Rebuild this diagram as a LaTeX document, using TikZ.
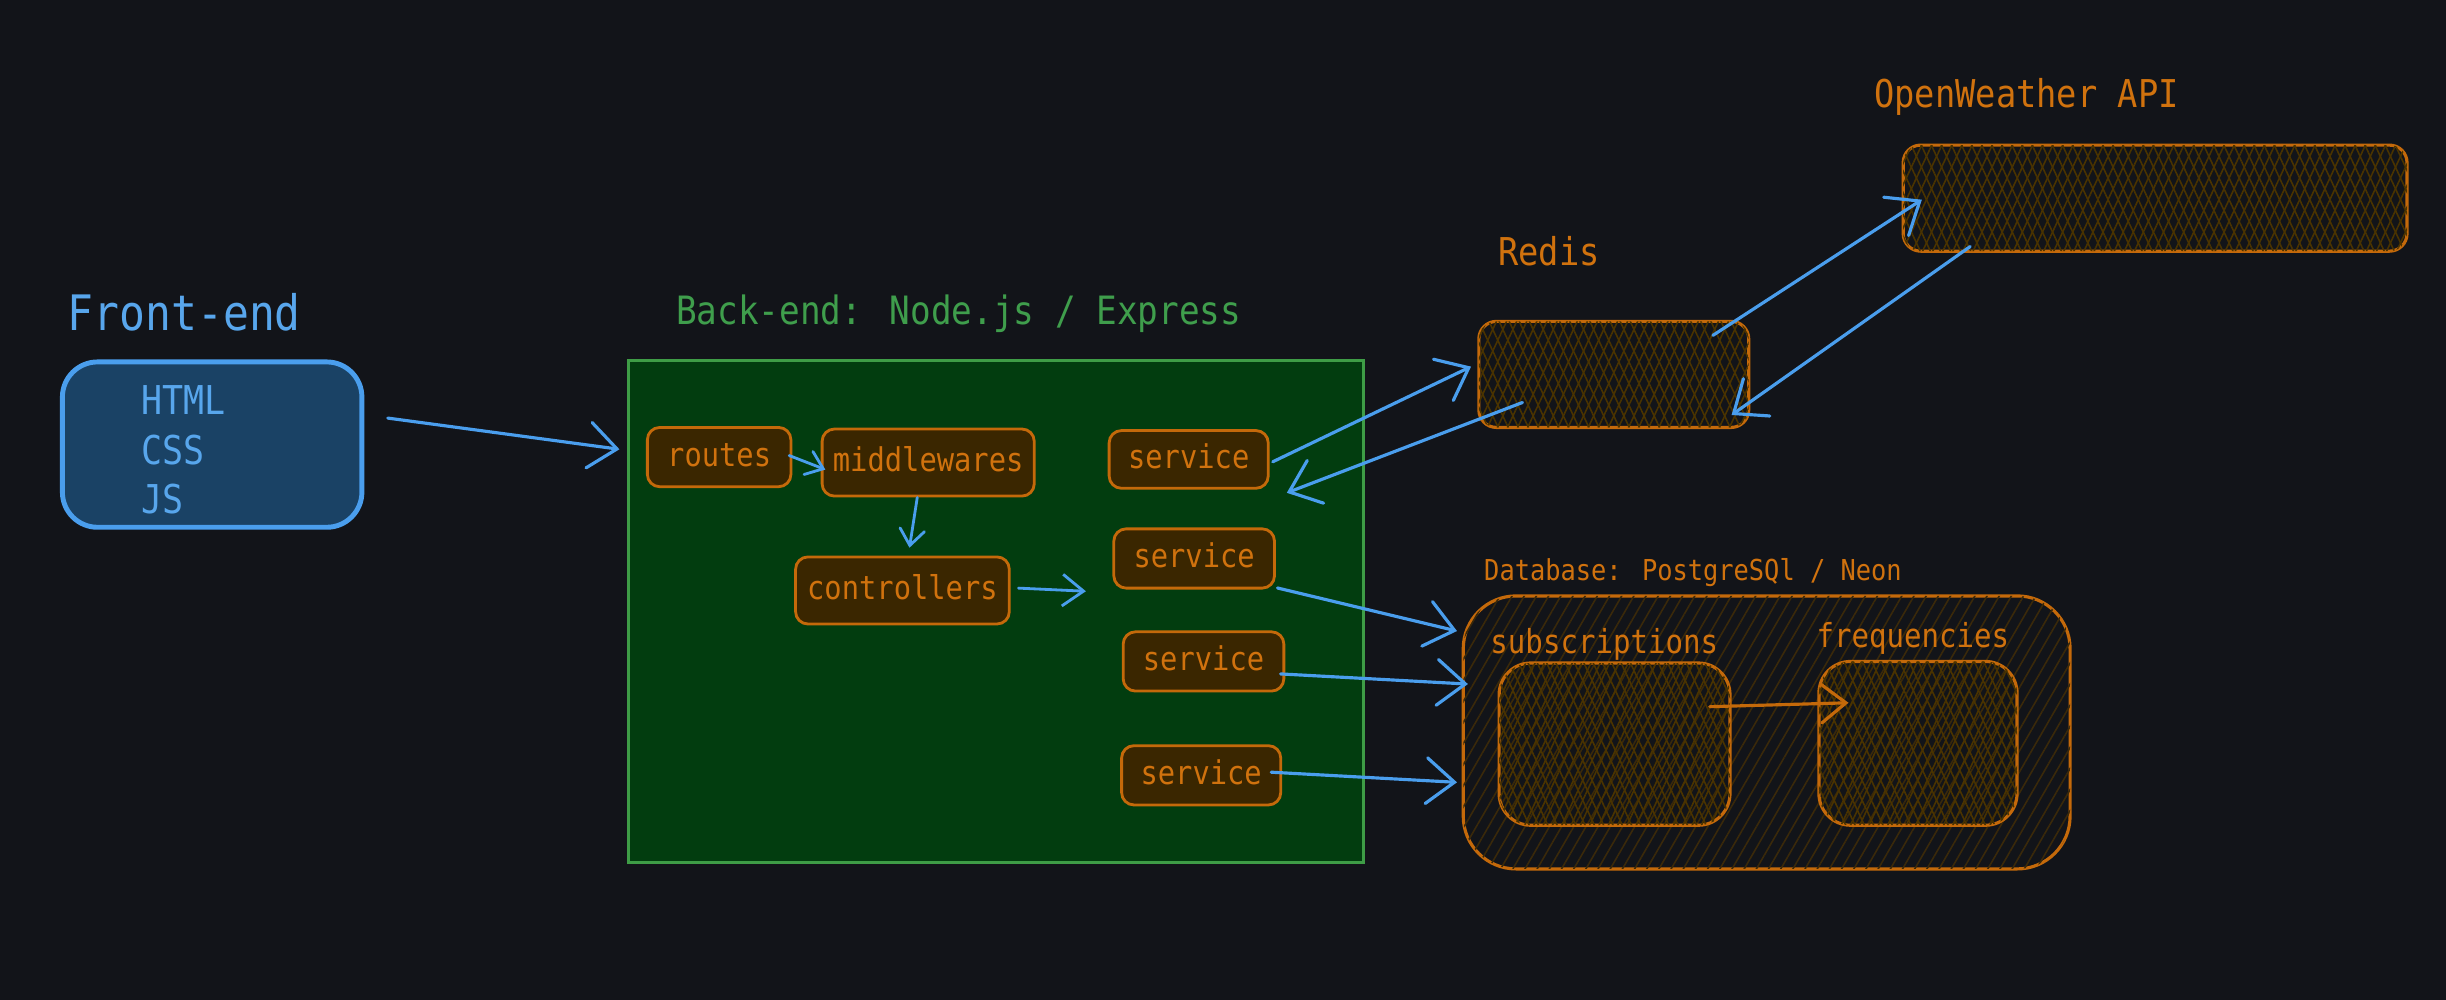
\documentclass[tikz,border=0pt]{standalone}
\usepackage{fontspec}
\newfontfamily\hand[FakeStretch=0.88]{DejaVu Sans Mono}
\usetikzlibrary{arrows.meta,calc,patterns.meta}
\definecolor{bgc}{HTML}{121419}
\definecolor{blueS}{HTML}{4A9EED}
\definecolor{blueT}{HTML}{58A6EC}
\definecolor{feFill}{HTML}{1A4265}
\definecolor{greenS}{HTML}{3E9D46}
\definecolor{greenT}{HTML}{3F9E4C}
\definecolor{beFill}{HTML}{023D0F}
\definecolor{orS}{HTML}{C4690A}
\definecolor{orT}{HTML}{D0720E}
\definecolor{nodeFill}{HTML}{3A2600}
\definecolor{hatchA}{HTML}{4A3300}
\definecolor{hatchB}{HTML}{3A290A}
\newcommand\fs[1]{\fontsize{#1}{#1}\selectfont}
\begin{document}
\begin{tikzpicture}[x=0.0156cm,y=-0.0156cm,
  wh/.style 2 args={minimum width=#1*0.0156cm, minimum height=#2*0.0156cm},
  ttl/.style={inner sep=0pt, anchor=base west},
  box/.style={draw=orS, line width=0.8pt, fill=nodeFill, rounded corners=3.5pt,
    inner sep=0pt, text=orT, font=\hand\fs{9.3}, text height=1.5ex, text depth=0.3ex},
  xhatch/.style={fill=bgc,
    postaction={pattern={Lines[angle=65,distance=2.6pt,line width=0.45pt]}, pattern color=hatchA},
    postaction={pattern={Lines[angle=115,distance=2.6pt,line width=0.45pt]}, pattern color=hatchA}},
  xhatchT/.style={
    postaction={pattern={Lines[angle=65,distance=2.4pt,line width=0.45pt]}, pattern color=hatchA},
    postaction={pattern={Lines[angle=115,distance=2.4pt,line width=0.45pt]}, pattern color=hatchA}},
  conn/.style={draw=blueS, line width=0.9pt, line cap=round,
    -{Straight Barb[length=8pt,width=13pt,line cap=round]}},
  connS/.style={draw=blueS, line width=0.8pt, line cap=round,
    -{Straight Barb[length=4.5pt,width=7pt,line cap=round]}},
  connO/.style={draw=orS, line width=0.9pt, line cap=round,
    -{Straight Barb[length=7pt,width=11pt,line cap=round]}}
]
\useasboundingbox[fill=bgc] (0,0) rectangle (1568,641);

% Front-end
\node[ttl, text=blueT, font=\hand\fs{13.9}] (fetitle) at (43,212) {Front-end};
\node[draw=blueS, line width=1.4pt, fill=feFill, rounded corners=10pt, wh={192}{106}] (fe) at (136,285) {};
\node[ttl, text=blueT, font=\hand\fs{11.3}] (html) at (90,266) {HTML};
\node[ttl, text=blueT, font=\hand\fs{11.3}] (css) at (90,298) {CSS};
\node[ttl, text=blueT, font=\hand\fs{11.3}] (js) at (90,329) {JS};

% Back-end
\node[ttl, text=greenT, font=\hand\fs{11.1}] (betitle) at (433,208) {Back-end: Node.js / Express};
\node[draw=greenS, line width=0.8pt, fill=beFill, wh={471}{322}] (be) at (638.5,392) {};

\node[box, wh={92}{38}] (routes) at (461,293) {routes};
\node[box, wh={136}{43}] (mw) at (595,296.5) {middlewares};
\node[box, wh={137}{43}] (ctrl) at (578.5,378.5) {controllers};
\node[box, wh={102}{37}] (s1) at (762,294.5) {service};
\node[box, wh={103}{38}] (s2) at (765.5,358) {service};
\node[box, wh={103}{38}] (s3) at (771.5,424) {service};
\node[box, wh={102}{38}] (s4) at (770,497) {service};

% Redis
\node[ttl, text=orT, font=\hand\fs{10.9}] (redistitle) at (960,170) {Redis};
\node[draw=orS, line width=0.9pt, rounded corners=5pt, xhatch, wh={173}{68}] (redis) at (1034.5,240) {};

% OpenWeather
\node[ttl, text=orT, font=\hand\fs{10.9}] (owtitle) at (1201,69) {OpenWeather API};
\node[draw=orS, line width=0.9pt, rounded corners=5pt, xhatch, wh={323}{68}] (ow) at (1381.5,127) {};

% Database
\node[ttl, text=orT, font=\hand\fs{8.2}] (dbtitle) at (951,372) {Database: PostgreSQl / Neon};
\node[draw=orS, line width=0.9pt, rounded corners=15pt, fill=bgc,
  postaction={pattern={Lines[angle=60,distance=3pt,line width=0.45pt]}, pattern color=hatchB},
  wh={389}{175}] (db) at (1132.5,469.5) {};
\node[ttl, text=orT, font=\hand\fs{9.4}] (substitle) at (955,419) {subscriptions};
\node[ttl, text=orT, font=\hand\fs{9.4}] (freqtitle) at (1164,415) {frequencies};
\node[draw=orS, line width=0.9pt, rounded corners=9pt, xhatchT, wh={148}{104}] (subs) at (1035,477) {};
\node[draw=orS, line width=0.9pt, rounded corners=9pt, xhatchT, wh={127}{105}] (freq) at (1229.5,476.5) {};

% connectors
\draw[conn] ($(fe.east)+(15,-17)$) -- ($(be.west)+(-5,-104)$);
\draw[connS] ($(routes.east)+(-2,-1)$) -- ($(mw.west)+(3,4.5)$);
\draw[connS] ($(mw.south)+(-7,0)$) -- ($(ctrl.north)+(4.5,-5)$);
\draw[connS, -{Straight Barb[length=6pt,width=9pt]}] ($(ctrl.east)+(5,-1.5)$) -- ($(s2.west)+(-17,21)$);
\draw[conn] ($(s1.east)+(2,1.5)$) -- ($(redis.west)+(-4,-5)$);
\draw[conn] ($(redis.west)+(29,18)$) -- ($(s1.south east)+(11,2)$);
\draw[conn] ($(s2.south east)+(1,-1)$) -- ($(db.west)+(-3,-65)$);
\draw[conn] ($(s3.east)+(-3,8)$) -- ($(db.west)+(4,-31)$);
\draw[conn] ($(s4.east)+(-7,-2)$) -- ($(db.west)+(-3,32)$);
\draw[conn] ($(redis.north east)+(-24,10)$) -- ($(ow.west)+(13,1)$);
\draw[conn] ($(ow.south west)+(44,-4)$) -- ($(redis.south east)+(-12,-9)$);
\draw[connO] ($(subs.east)+(-14,-24)$) -- ($(freq.west)+(20,-26)$);
\end{tikzpicture}
\end{document}
